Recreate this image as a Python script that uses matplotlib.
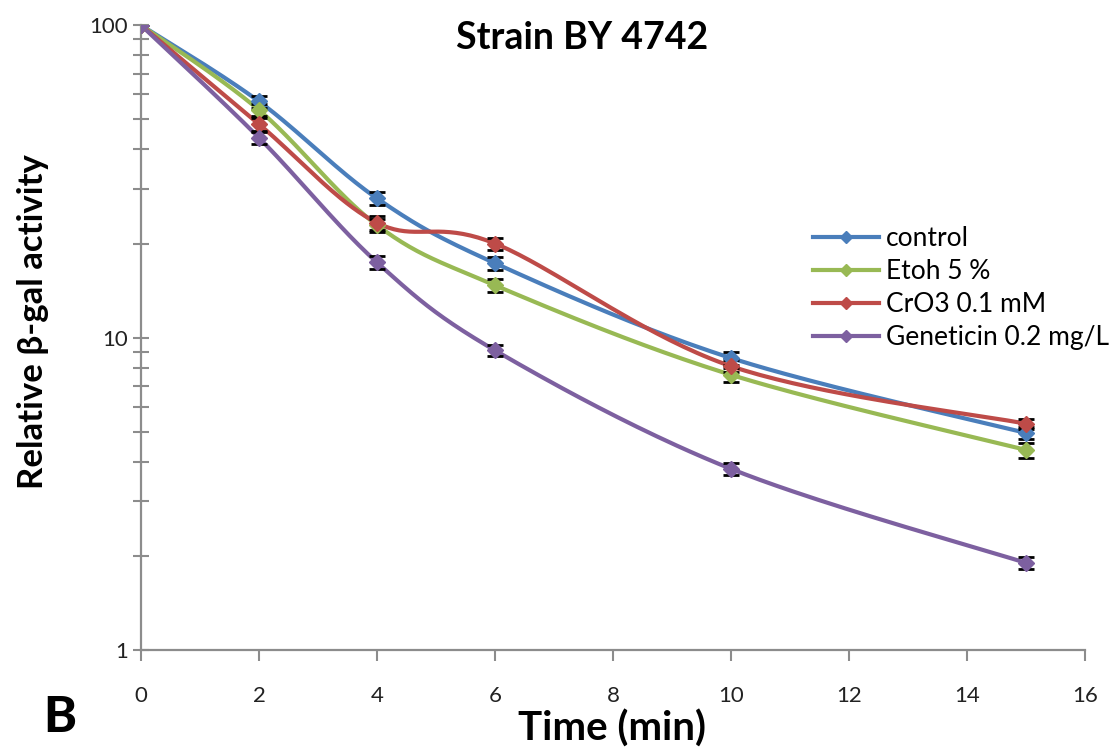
import numpy as np
import matplotlib.pyplot as plt
from matplotlib.ticker import FixedLocator, NullFormatter

plt.rcParams['font.family'] = ['Lato', 'DejaVu Sans']

time_min = [0, 2, 4, 6, 10, 15]

control = [100, 57, 27.9, 17.3, 8.6, 4.95]
etoh = [100, 53.5, 22.9, 14.7, 7.6, 4.37]
cro3 = [100, 48.2, 23.3, 20.0, 8.1, 5.3]
geneticin = [100, 43.6, 17.4, 9.1, 3.8, 1.9]

control_err = [0, 2.5, 1.3, 0.8, 0.4, 0.22]
etoh_err = [0, 2.4, 1.1, 0.75, 0.4, 0.24]
cro3_err = [0, 2.2, 1.2, 0.9, 0.35, 0.2]
geneticin_err = [0, 2.0, 0.8, 0.4, 0.17, 0.09]

labels = ["control", "Etoh 5 %", "CrO3 0.1 mM", "Geneticin 0.2 mg/L"]
colors = ["#4a7ebb", "#98b954", "#be4b48", "#7d60a0"]


def smooth(x, y, n=40):
    # Excel-like smoothed line (Catmull-Rom bezier), done in log space
    x = np.asarray(x, float)
    ly = np.log10(np.asarray(y, float))
    px, py = [], []
    for i in range(len(x) - 1):
        x0, y0 = (x[i - 1], ly[i - 1]) if i > 0 else (x[i], ly[i])
        x3, y3 = (x[i + 2], ly[i + 2]) if i + 2 < len(x) else (x[i + 1], ly[i + 1])
        x1, y1, x2, y2 = x[i], ly[i], x[i + 1], ly[i + 1]
        c1x, c1y = x1 + (x2 - x0) / 6, y1 + (y2 - y0) / 6
        c2x, c2y = x2 - (x3 - x1) / 6, y2 - (y3 - y1) / 6
        t = np.linspace(0, 1, n)
        bx = (1-t)**3*x1 + 3*(1-t)**2*t*c1x + 3*(1-t)*t**2*c2x + t**3*x2
        by = (1-t)**3*y1 + 3*(1-t)**2*t*c1y + 3*(1-t)*t**2*c2y + t**3*y2
        px.extend(bx)
        py.extend(by)
    return np.array(px), 10 ** np.array(py)


fig = plt.figure(figsize=(11.19, 7.51), dpi=100)
ax = fig.add_axes([0.126, 0.1345, 0.8436, 0.832])

series = [control, etoh, cro3, geneticin]
errs = [control_err, etoh_err, cro3_err, geneticin_err]
for vals, err, lab, col in zip(series, errs, labels, colors):
    sx, sy = smooth(time_min, vals)
    ax.plot(sx, sy, color=col, lw=3, zorder=2, solid_capstyle="round")
    ax.errorbar(time_min, vals, yerr=err, fmt="none", ecolor="black",
                elinewidth=1.5, capsize=6, capthick=2, zorder=3)
    ax.plot(time_min, vals, "D", color=col, ms=8, zorder=4)
    ax.plot([], [], color=col, lw=3, marker="D", ms=6, label=lab)

ax.set_yscale("log")
ax.set_xlim(0, 16)
ax.set_ylim(1, 100)
ax.set_xticks(range(0, 17, 2))
ax.yaxis.set_major_locator(FixedLocator([1, 10, 100]))
ax.set_yticklabels(["1", "10", "100"])
minor = [m * d for d in (1, 10) for m in range(2, 10)]
ax.yaxis.set_minor_locator(FixedLocator(minor))
ax.yaxis.set_minor_formatter(NullFormatter())

for s in ["top", "right"]:
    ax.spines[s].set_visible(False)
for s in ["left", "bottom"]:
    ax.spines[s].set_color("#8c8c8c")
    ax.spines[s].set_linewidth(1.6)

ax.tick_params(axis="x", direction="out", length=8, width=1.5, color="#8c8c8c",
               pad=18, labelsize=16, labelcolor="#222222")
ax.tick_params(axis="y", which="major", direction="inout", length=11, width=1.5,
               color="#8c8c8c", pad=4, labelsize=16, labelcolor="#222222")
ax.tick_params(axis="y", which="minor", direction="inout", length=11, width=1.5,
               color="#8c8c8c")

fig.text(612 / 1119, 1 - 729 / 751, "Time (min)", fontsize=29,
         fontweight="bold", ha="center", va="center")
fig.text(33 / 1119, 1 - 322 / 751, "Relative β-gal activity", fontsize=25,
         fontweight="bold", rotation=90, ha="center", va="center")
fig.text(582 / 1119, 1 - 38 / 751, "Strain BY 4742", fontsize=27,
         fontweight="bold", ha="center", va="center")
fig.text(60 / 1119, 1 - 717 / 751, "B", fontsize=36, fontweight="black",
         ha="center", va="center")

ax.legend(loc="upper left", bbox_to_anchor=(813 / 1119, 1 - 226 / 751),
          bbox_transform=fig.transFigure, frameon=False, borderpad=0,
          borderaxespad=0, fontsize=19, handlelength=2.5, labelspacing=0.3,
          handletextpad=0.25)

fig.savefig("out.png", dpi=100)
